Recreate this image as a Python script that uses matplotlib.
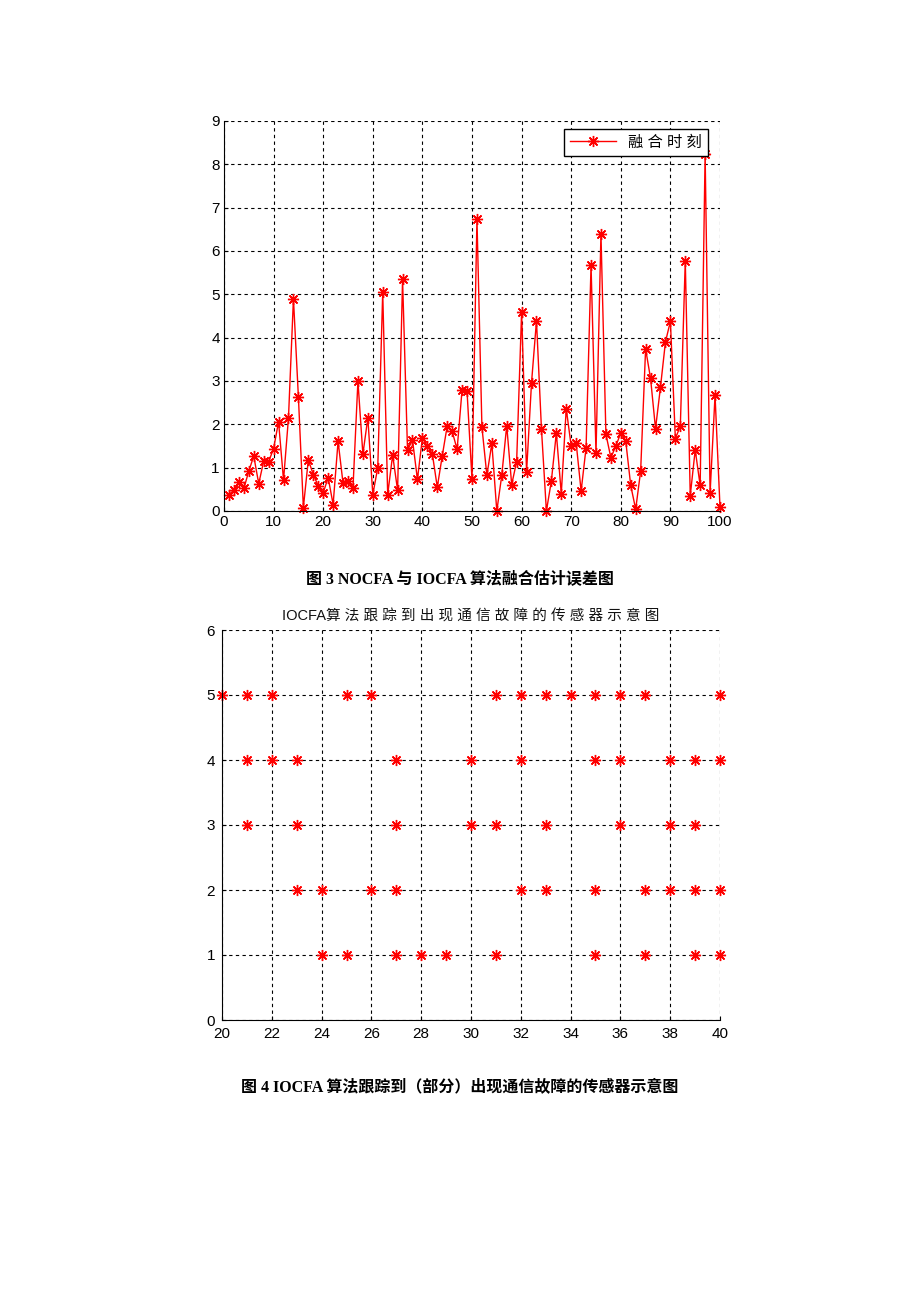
import matplotlib
matplotlib.use("Agg")
import matplotlib.pyplot as plt

plt.rcParams["font.family"] = ["Liberation Sans", "Noto Sans CJK SC", "DejaVu Sans"]

# Figure 3: fusion estimation error at each time step
steps = list(range(1, 101))
fusion_error = [
    0.38, 0.48, 0.67, 0.52, 0.92, 1.27, 0.63, 1.15, 1.14, 1.44,
    2.06, 0.71, 2.15, 4.90, 2.63, 0.08, 1.18, 0.84, 0.58, 0.42,
    0.77, 0.15, 1.61, 0.64, 0.69, 0.52, 3.00, 1.31, 2.15, 0.38,
    1.00, 5.05, 0.38, 1.29, 0.48, 5.35, 1.40, 1.64, 0.73, 1.69,
    1.50, 1.32, 0.55, 1.27, 1.96, 1.84, 1.42, 2.80, 2.76, 0.73,
    6.74, 1.94, 0.82, 1.56, 0.00, 0.82, 1.97, 0.61, 1.14, 4.59,
    0.90, 2.96, 4.39, 1.90, 0.00, 0.69, 1.80, 0.40, 2.36, 1.50,
    1.57, 0.46, 1.46, 5.67, 1.34, 6.40, 1.77, 1.23, 1.50, 1.80,
    1.61, 0.59, 0.04, 0.92, 3.74, 3.06, 1.90, 2.86, 3.90, 4.38,
    1.67, 1.96, 5.78, 0.35, 1.41, 0.59, 8.25, 0.41, 2.67, 0.09,
]

# Figure 4: time steps at which each sensor shows a communication fault
sensor_1 = [24, 25, 27, 28, 29, 31, 35, 37, 39, 40]
sensor_2 = [23, 24, 26, 27, 32, 33, 35, 37, 38, 39, 40]
sensor_3 = [21, 23, 27, 30, 31, 33, 36, 38, 39]
sensor_4 = [21, 22, 23, 27, 30, 32, 35, 36, 38, 39, 40]
sensor_5 = [20, 21, 22, 25, 26, 31, 32, 33, 34, 35, 36, 37, 40]
faults = {1: sensor_1, 2: sensor_2, 3: sensor_3, 4: sensor_4, 5: sensor_5}

fig = plt.figure(figsize=(9.2, 13.02), dpi=100)

grid_style = dict(color="black", linestyle=(0, (3, 3)), linewidth=0.8)
# MATLAB-like asterisk: eight arms (plus and cross)
asterisk = (8, 2, 0)


def style_axes(ax):
    ax.spines["top"].set_visible(False)
    ax.spines["right"].set_visible(False)
    ax.tick_params(direction="in", length=3, labelsize=11, pad=3)
    ax.grid(True, **grid_style)
    ax.set_axisbelow(True)


# Top chart
ax = fig.add_axes([224 / 920, 1 - 511 / 1302, 496 / 920, 390 / 1302])
ax.plot(steps, fusion_error, color="red", linewidth=1.0, marker=asterisk,
        markersize=8, markeredgewidth=1.0, markeredgecolor="red",
        label="融 合 时 刻", clip_on=False)
ax.set_xlim(0, 100)
ax.set_ylim(0, 9)
ax.set_xticks(range(0, 101, 10))
ax.set_yticks(range(0, 10))
style_axes(ax)
leg = ax.legend(loc="upper right", fontsize=11, fancybox=False, framealpha=1,
                edgecolor="black", borderaxespad=0, handlelength=3.0,
                bbox_to_anchor=(0.976, 0.979))
leg.get_frame().set_linewidth(1.0)

fig.text(0.5, 1 - 580 / 1302, "图 3 NOCFA 与 IOCFA 算法融合估计误差图",
         ha="center", va="center", fontsize=11.5, fontweight="bold",
         family=["Liberation Serif", "Noto Sans CJK SC"])

# Bottom chart
ax2 = fig.add_axes([222 / 920, 1 - 1020 / 1302, 498 / 920, 390 / 1302])
for sensor, times in faults.items():
    ax2.plot(times, [sensor] * len(times), linestyle="none", marker=asterisk,
             color="red", markeredgecolor="red", markersize=8,
             markeredgewidth=1.0, clip_on=False)
ax2.set_xlim(20, 40)
ax2.set_ylim(0, 6)
ax2.set_xticks(range(20, 41, 2))
ax2.set_yticks(range(0, 7))
style_axes(ax2)
ax2.tick_params(axis="x", pad=5)
ax2.tick_params(axis="y", pad=5)
ax2.set_title("IOCFA算 法 跟 踪 到 出 现 通 信 故 障 的 传 感 器 示 意 图",
              fontsize=10.5, pad=7, color="#111111")

fig.text(0.5, 1 - 1087 / 1302, "图 4 IOCFA 算法跟踪到（部分）出现通信故障的传感器示意图",
         ha="center", va="center", fontsize=11.5, fontweight="bold",
         family=["Liberation Serif", "Noto Sans CJK SC"])

fig.savefig("out.png", dpi=100)
